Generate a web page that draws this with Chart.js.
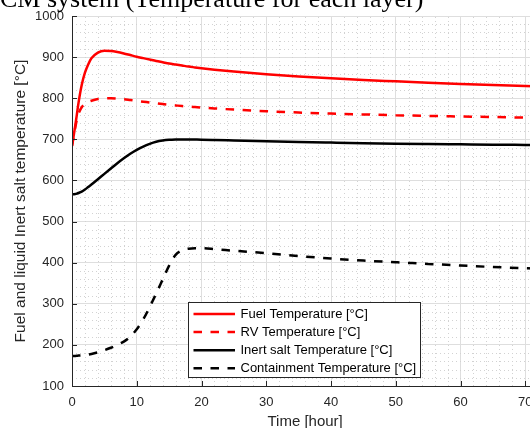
<!DOCTYPE html>
<html><head><meta charset="utf-8">
<script src="https://cdn.jsdelivr.net/npm/chart.js@4/dist/chart.umd.min.js"></script>
<style>
html,body{margin:0;padding:0;background:#fff;overflow:hidden;width:530px;height:428px}
#wrap{position:absolute;left:0;top:0;width:541px;height:428px}
</style></head>
<body><div id="wrap"><canvas id="c" width="541" height="428"></canvas></div>
<script>
const chartTitle = 'CM system (Temperature for each layer)';
const xAxisTitle = 'Time [hour]';
const yAxisTitle = 'Fuel and liquid Inert salt temperature [°C]';
const seriesNames = ['Fuel Temperature [°C]', 'RV Temperature [°C]', 'Inert salt Temperature [°C]', 'Containment Temperature [°C]'];
const xTickValues = [0, 10, 20, 30, 40, 50, 60, 70];
const yTickValues = [100, 200, 300, 400, 500, 600, 700, 800, 900, 1000];

const timeHours = [0, 0.25, 0.5, 0.75, 1, 1.5, 2, 2.5, 3, 4, 5, 6, 7, 8, 9, 10, 11, 12, 13, 14, 15, 16, 17, 18, 19, 20, 22, 25, 30, 35, 40, 45, 50, 55, 60, 65, 70, 72];
const fuelTemp = [684, 708, 733, 760, 788, 832, 862, 882, 897, 911, 915.5, 915, 912.5, 909, 905, 901, 897.5, 894, 890.5, 887.5, 884.5, 882, 879.5, 877, 875, 873, 869.5, 865, 858.5, 853, 848.5, 844.5, 841, 837.5, 834.5, 832, 830, 829];
const rvTemp = [684, 705, 728, 748, 762, 778, 786, 791, 794, 798, 799.5, 800, 799, 797.5, 795.5, 793.5, 791.5, 789.5, 787.5, 785.7, 784, 782.5, 781, 779.7, 778.5, 777.3, 775.2, 772.3, 768.3, 765.2, 762.7, 760.5, 758.7, 757, 755.5, 754.2, 753, 752.5];
const inertSaltTemp = [566, 566.5, 567, 568, 569.5, 573, 578, 584, 590, 603, 616, 629, 642, 654, 665, 674.5, 682.5, 689, 694, 697, 698.7, 699.4, 699.6, 699.6, 699.4, 699.2, 698.5, 697.3, 695.3, 693.5, 692, 690.6, 689.5, 688.6, 687.8, 687, 686.3, 686];
const containmentTemp = [173, 173, 173.2, 173.5, 174, 174.5, 175.5, 176.5, 178, 182, 187, 193, 200, 208, 220, 238, 262, 292, 325, 359, 393, 419, 430, 434, 435, 435, 433, 429, 423, 416, 410, 405, 401, 397, 393, 389.5, 386.5, 385.5];

const seriesValues = [fuelTemp, rvTemp, inertSaltTemp, containmentTemp];
const seriesColors = ['#ff0000', '#ff0000', '#000000', '#000000'];
const seriesDashes = [[], [8.5, 8.5], [], [8.5, 8.5]];

const FONT = '"Liberation Sans", Arial, sans-serif';
const AXIS = '#262626';

const datasets = seriesValues.map((vals, i) => ({
  label: seriesNames[i],
  data: timeHours.map((t, j) => ({x: t, y: vals[j]})),
  borderColor: seriesColors[i],
  borderDash: seriesDashes[i],
  borderWidth: 2.5,
  pointRadius: 0,
  fill: false,
  cubicInterpolationMode: 'monotone'
}));

const minorGrid = {
  id: 'minorGrid',
  beforeDatasetsDraw(chart) {
    const {ctx, chartArea: a, scales: {x, y}} = chart;
    ctx.save();
    ctx.beginPath(); ctx.rect(a.left, a.top, a.right - a.left, a.bottom - a.top); ctx.clip();
    ctx.strokeStyle = '#d2d2d2'; ctx.lineWidth = 1; ctx.setLineDash([1, 3]);
    for (let v = 0; v <= x.max; v += 2) {
      if (v % 10 === 0) continue;
      const px = Math.round(x.getPixelForValue(v)) + 0.5;
      ctx.beginPath(); ctx.moveTo(px, a.bottom); ctx.lineTo(px, a.top); ctx.stroke();
    }
    for (let v = y.min; v <= y.max; v += 20) {
      if (v % 100 === 0) continue;
      const py = Math.round(y.getPixelForValue(v)) + 0.5;
      ctx.beginPath(); ctx.moveTo(a.left, py); ctx.lineTo(a.right, py); ctx.stroke();
    }
    ctx.restore();
  }
};

const inwardTicks = {
  id: 'inwardTicks',
  afterDatasetsDraw(chart) {
    const {ctx, chartArea: a, scales: {x, y}} = chart;
    ctx.save();
    ctx.strokeStyle = AXIS; ctx.lineWidth = 1;
    xTickValues.forEach(v => {
      const px = Math.round(x.getPixelForValue(v)) + 0.5;
      ctx.beginPath(); ctx.moveTo(px, a.bottom); ctx.lineTo(px, a.bottom - 5); ctx.stroke();
    });
    yTickValues.forEach(v => {
      const py = Math.round(y.getPixelForValue(v)) + 0.5;
      ctx.beginPath(); ctx.moveTo(a.left, py); ctx.lineTo(a.left + 5, py); ctx.stroke();
    });
    ctx.beginPath(); ctx.moveTo(a.left + 0.5, a.top); ctx.lineTo(a.left + 0.5, a.bottom + 0.5); ctx.lineTo(a.right, a.bottom + 0.5); ctx.stroke();
    ctx.restore();
  }
};

const boxLegend = {
  id: 'boxLegend',
  afterDraw(chart) {
    const ctx = chart.ctx;
    ctx.save();
    ctx.fillStyle = '#ffffff';
    ctx.fillRect(188.5, 302.5, 232, 75);
    ctx.strokeStyle = AXIS; ctx.lineWidth = 1;
    ctx.strokeRect(188.5, 302.5, 232, 75);
    ctx.font = '13px ' + FONT;
    ctx.textBaseline = 'middle';
    chart.data.datasets.forEach((ds, i) => {
      const yy = 314 + i * 18.1;
      ctx.strokeStyle = ds.borderColor; ctx.lineWidth = ds.borderWidth;
      ctx.setLineDash(ds.borderDash);
      ctx.beginPath(); ctx.moveTo(193.5, yy); ctx.lineTo(235, yy); ctx.stroke();
      ctx.setLineDash([]);
      ctx.fillStyle = '#000';
      ctx.fillText(ds.label, 240.5, yy);
    });
    ctx.restore();
  }
};

const topTitle = {
  id: 'topTitle',
  afterDraw(chart) {
    const ctx = chart.ctx;
    ctx.save();
    ctx.font = '26px "Liberation Serif", "Times New Roman", serif';
    ctx.fillStyle = '#000';
    ctx.textBaseline = 'alphabetic';
    ctx.fillText(chartTitle, 0, 7);
    ctx.restore();
  }
};

new Chart(document.getElementById('c'), {
  type: 'line',
  data: {datasets},
  plugins: [minorGrid, inwardTicks, boxLegend, topTitle],
  options: {
    responsive: false,
    animation: false,
    devicePixelRatio: 1,
    layout: {padding: {top: 16, right: 0, bottom: 0, left: 0}},
    plugins: {legend: {display: false}, title: {display: false}, tooltip: {enabled: false}},
    scales: {
      x: {
        type: 'linear', min: 0, max: 72,
        afterBuildTicks: s => { s.ticks = xTickValues.map(v => ({value: v})); },
        afterFit: s => { s.height = 42; },
        ticks: {padding: 8.5, color: AXIS, font: {family: FONT, size: 13}, callback: v => String(v)},
        grid: {color: '#dedede', lineWidth: 1, drawTicks: false},
        border: {display: false},
        title: {display: true, text: xAxisTitle, color: AXIS, font: {family: FONT, size: 15, lineHeight: 0.8}, padding: {top: 0, bottom: 0}}
      },
      y: {
        type: 'linear', min: 100, max: 1000,
        afterBuildTicks: s => { s.ticks = yTickValues.map(v => ({value: v})); },
        afterFit: s => { s.width = 72; },
        ticks: {padding: 8, color: AXIS, font: {family: FONT, size: 13}, callback: v => String(v)},
        grid: {color: '#dedede', lineWidth: 1, drawTicks: false},
        border: {display: false},
        title: {display: true, text: yAxisTitle, color: AXIS, font: {family: FONT, size: 15.5}, padding: {top: 11, bottom: 0}}
      }
    }
  }
});
</script>
</body></html>
